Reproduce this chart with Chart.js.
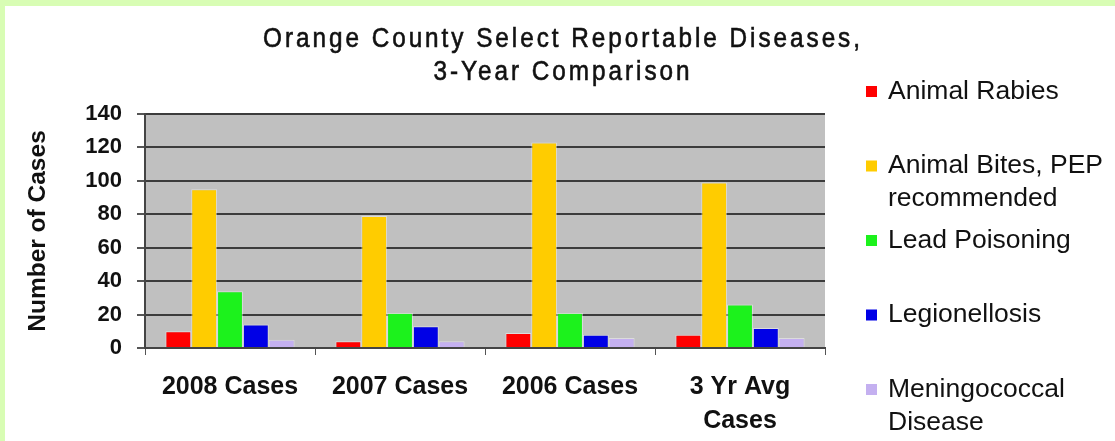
<!DOCTYPE html>
<html>
<head>
<meta charset="utf-8">
<script src="https://cdn.jsdelivr.net/npm/chart.js@4"></script>
<style>
  html, body { margin: 0; padding: 0; }
  body { background: #d8fdb4; width: 1115px; height: 441px; overflow: hidden; }
  #wrap { position: absolute; left: 5px; top: 6px; width: 1110px; height: 435px; background: #fff; }
</style>
</head>
<body>
<div id="wrap"><canvas id="diseaseChart"></canvas></div>
<script>
const titleLines = ['Orange County Select Reportable Diseases,', '3-Year Comparison'];
const categories = ['2008 Cases', '2007 Cases', '2006 Cases', ['3 Yr Avg', 'Cases']];

const seriesNames = [
    ['Animal Rabies'],
    ['Animal Bites, PEP', 'recommended'],
    ['Lead Poisoning'],
    ['Legionellosis'],
    ['Meningococcal', 'Disease']
];
const seriesColors = ['#ff0000', '#ffcc00', '#1cf21c', '#0000e6', '#c4b0f0'];

const animalRabies = [10, 4, 9, 8];
const animalBites = [95, 79, 123, 99];
const leadPoisoning = [34, 21, 21, 26];
const legionellosis = [14, 13, 8, 12];
const meningococcal = [5, 4, 6, 6];

const yTicks = { min: 0, max: 140, step: 20 };

const FONT = '"Liberation Sans", Arial, sans-serif';

// grey plot background behind the bars
const plotBackground = {
    id: 'plotBackground',
    beforeDraw(chart) {
        const { ctx, chartArea: a } = chart;
        ctx.save();
        ctx.fillStyle = '#c0c0c0';
        ctx.fillRect(a.left, a.top, a.right - a.left, a.bottom - a.top);
        ctx.restore();
    }
};

// narrow, spaced-out title and the legend column on the right
const titleAndLegend = {
    id: 'titleAndLegend',
    afterDraw(chart) {
        const ctx = chart.ctx;
        const sx = 0.9;
        ctx.save();
        ctx.fillStyle = '#111';
        ctx.strokeStyle = '#111';
        ctx.lineWidth = 0.6;
        ctx.textAlign = 'center';
        ctx.textBaseline = 'middle';
        ctx.font = '27px ' + FONT;
        ctx.letterSpacing = '3.3px';
        ctx.save();
        ctx.scale(sx, 1);
        titleLines.forEach((line, i) => {
            ctx.fillText(line, 558 / sx, 34 + i * 33);
            ctx.strokeText(line, 558 / sx, 34 + i * 33);
        });
        ctx.restore();
        ctx.letterSpacing = '0px';

        ctx.textAlign = 'left';
        ctx.font = '26.5px ' + FONT;
        chart.data.datasets.forEach((ds, i) => {
            const y = 85.5 + i * 74.5;
            ctx.fillStyle = ds.backgroundColor;
            ctx.fillRect(861, y - 5.5, 11, 11);
            ctx.fillStyle = '#111';
            seriesNames[i].forEach((t, j) => ctx.fillText(t, 883, y + j * 33));
        });
        ctx.restore();
    }
};

const seriesData = [animalRabies, animalBites, leadPoisoning, legionellosis, meningococcal];

const ctx = document.getElementById('diseaseChart').getContext('2d');
const chart = new Chart(ctx, {
    type: 'bar',
    data: {
        labels: categories,
        datasets: seriesData.map((values, i) => ({
            label: seriesNames[i].join(' '),
            data: values,
            backgroundColor: seriesColors[i],
            borderColor: 'rgba(255, 255, 255, 0.45)',
            borderWidth: 1,
            categoryPercentage: 0.76,
            barPercentage: 1
        }))
    },
    options: {
        responsive: true,
        maintainAspectRatio: false,
        animation: false,
        layout: {
            padding: { top: 108, right: 290, left: 0, bottom: 0 }
        },
        plugins: {
            legend: { display: false },
            tooltip: { enabled: false },
            title: { display: false }
        },
        scales: {
            x: {
                grid: {
                    display: true,
                    drawOnChartArea: false,
                    drawTicks: true,
                    tickLength: 7,
                    color: '#555',
                    lineWidth: 1
                },
                border: { display: true, color: '#444', width: 2 },
                ticks: {
                    font: { family: FONT, size: 25, weight: 'bold', lineHeight: 1.36 },
                    color: '#111',
                    padding: 15,
                    maxRotation: 0,
                    autoSkip: false
                },
                afterFit(scale) { scale.height = 93; }
            },
            y: {
                min: yTicks.min,
                max: yTicks.max,
                ticks: {
                    stepSize: yTicks.step,
                    font: { family: FONT, size: 22, weight: 'bold' },
                    color: '#111',
                    padding: 15
                },
                grid: {
                    color: '#3c3c3c',
                    lineWidth: 2,
                    tickLength: 8,
                    tickColor: '#555',
                    tickWidth: 2
                },
                border: { display: true, color: '#444', width: 2 },
                title: {
                    display: true,
                    text: 'Number of Cases',
                    font: { family: FONT, size: 24.5, weight: 'bold' },
                    color: '#111',
                    padding: { top: 19, bottom: 0 }
                },
                afterFit(scale) { scale.width = 140; }
            }
        }
    },
    plugins: [plotBackground, titleAndLegend]
});
</script>
</body>
</html>
